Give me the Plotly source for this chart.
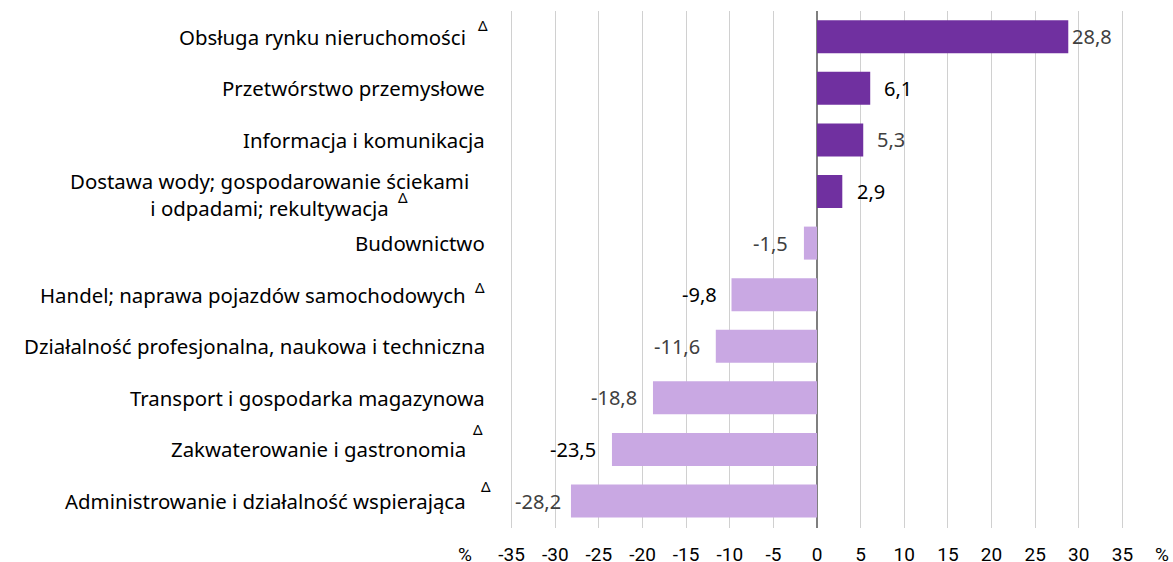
import plotly.graph_objects as go

categories = [
    "Obsługa rynku nieruchomości",
    "Przetwórstwo przemysłowe",
    "Informacja i komunikacja",
    "Dostawa wody; gospodarowanie ściekami<br>i odpadami; rekultywacja",
    "Budownictwo",
    "Handel; naprawa pojazdów samochodowych",
    "Działalność profesjonalna, naukowa i techniczna",
    "Transport i gospodarka magazynowa",
    "Zakwaterowanie i gastronomia",
    "Administrowanie i działalność wspierająca",
]
delta_mark = [True, False, False, True, False, True, False, False, True, True]
values = [28.8, 6.1, 5.3, 2.9, -1.5, -9.8, -11.6, -18.8, -23.5, -28.2]
value_labels = ["28,8", "6,1", "5,3", "2,9", "-1,5", "-9,8", "-11,6", "-18,8", "-23,5", "-28,2"]
tick_vals = [-35, -30, -25, -20, -15, -10, -5, 0, 5, 10, 15, 20, 25, 30, 35]
tick_text = ["-35", "-30", "-25", "-20", "-15", "-10", "-5", "0", "5", "10", "15", "20", "25", "30", "35"]
unit_label = "%"
delta_symbol = "Δ"

# ---- styles ----
POS_COLOR = "#7030A0"
NEG_COLOR = "#C9A8E3"
label_colors = ["#404040", "#000000", "#404040", "#000000", "#404040",
                "#000000", "#404040", "#404040", "#000000", "#404040"]
label_gaps = [2, 12, 12, 13, 14, 13, 14, 14, 14, 8]
delta_yshift = [12, 0, 0, -5, 0, 8, 0, 0, 20, 15]
delta_xpaper = [0.0215, 0, 0, -0.093, 0, 0.0172, 0, 0, 0.0143, 0.0258]
CAT_FONT = "Noto Sans, sans-serif"
NUM_FONT = "Noto Sans, sans-serif"
TICK_FONT = "Liberation Sans Narrow, Roboto, sans-serif"
CAT_SIZE = 20.4

ykeys = [f"c{i}" for i in range(len(categories))]
colors = [POS_COLOR if v >= 0 else NEG_COLOR for v in values]

fig = go.Figure()
fig.add_trace(go.Bar(
    x=values, y=ykeys, orientation="h",
    marker=dict(color=colors, line=dict(width=0)),
    hoverinfo="skip",
))

annotations = []
for i, (cat, d) in enumerate(zip(categories, delta_mark)):
    multi = "<br>" in cat
    if multi:
        xpos = -39.6
    else:
        xpos = -40.0 if d else -37.85
    annotations.append(dict(
        x=xpos, y=ykeys[i], xref="x", yref="y", yshift=-3 if multi else 0,
        text=cat, showarrow=False, xanchor="right", yanchor="middle",
        align="center", font=dict(family=CAT_FONT, size=CAT_SIZE, color="#000000"),
    ))
    if d:
        annotations.append(dict(
            x=delta_xpaper[i], y=ykeys[i], xref="paper", yref="y", yshift=delta_yshift[i],
            text=delta_symbol, showarrow=False, xanchor="center", yanchor="middle",
            font=dict(family=CAT_FONT, size=15, color="#000000"),
        ))
for i, (v, lab) in enumerate(zip(values, value_labels)):
    pos = v >= 0
    annotations.append(dict(
        x=v, y=ykeys[i], xref="x", yref="y", text=lab, showarrow=False,
        xanchor="left" if pos else "right", yanchor="middle",
        xshift=label_gaps[i] if pos else -label_gaps[i],
        font=dict(family=NUM_FONT, size=20, color=label_colors[i]),
    ))
for xv in (-0.005, 0.9945):
    annotations.append(dict(
        x=xv, y=-0.051, xref="paper", yref="paper", text=unit_label, showarrow=False,
        xanchor="center", yanchor="middle",
        font=dict(family=TICK_FONT, size=19, color="#000000"),
    ))

fig.update_layout(
    width=1173, height=562,
    margin=dict(l=468, r=7, t=11, b=34, autoexpand=False),
    paper_bgcolor="white", plot_bgcolor="white",
    showlegend=False, bargap=0.36, hovermode=False,
    font=dict(family=CAT_FONT, size=18, color="#000000"),
    xaxis=dict(
        range=[-40, 40], tickvals=tick_vals, ticktext=tick_text,
        showgrid=True, gridcolor="#D0D0D0", gridwidth=1,
        zeroline=True, zerolinecolor="#7F7F7F", zerolinewidth=1.5,
        showline=False, ticks="", ticklabelstandoff=13, automargin=False,
        tickfont=dict(family=TICK_FONT, size=19, color="#000000"),
        fixedrange=True,
    ),
    yaxis=dict(
        autorange="reversed", showticklabels=False, showgrid=False,
        zeroline=False, showline=False, ticks="", fixedrange=True, automargin=False,
    ),
    annotations=annotations,
)

fig.write_html(
    "out.html",
    config={"displayModeBar": False, "staticPlot": True},
    post_script="document.body.style.margin='0';document.body.style.padding='0';document.body.style.overflow='hidden';",
)
